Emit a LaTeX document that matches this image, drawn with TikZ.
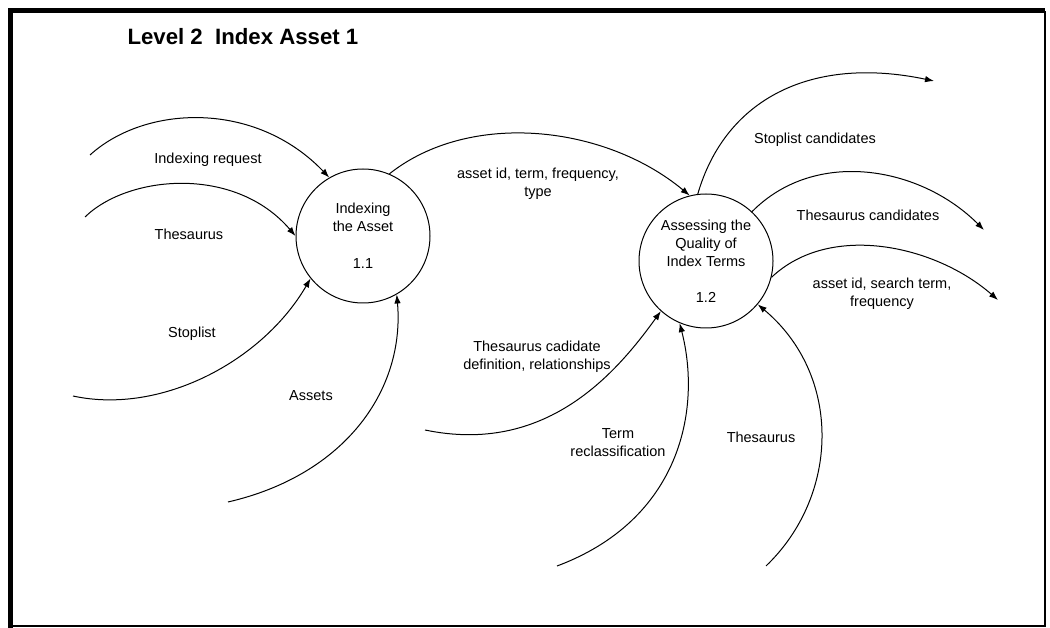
\documentclass[tikz,border=0pt]{standalone}
\usepackage{fontspec}
\setmainfont{Liberation Sans}
\usetikzlibrary{arrows.meta}

\begin{document}
\begin{tikzpicture}[x=1pt, y=-1pt, >={Latex[length=9pt,width=6.5pt]},
  process/.style={circle, draw, line width=1pt, minimum size=134pt, inner sep=0pt,
    align=center, font=\fontsize{14.5}{18}\selectfont},
  flowlabel/.style={align=center, inner sep=0pt, font=\fontsize{14.5}{18}\selectfont},
  flow/.style={->, line width=1pt}]

\useasboundingbox (0,0) rectangle (1050,628);

%Frame
\draw[line width=1.5pt] (10,626) -- (1045,626) -- (1045,11);
\draw[line width=5pt] (10,628) -- (10,11) -- (1045,11);

%Title
\node[anchor=west, font=\fontsize{22.2}{26}\selectfont\bfseries] (title) at (124,37) {Level 2\ \ Index Asset 1};

%Indexing the asset
\node[process] (idx) at (363,236) {
    Indexing\\the Asset\\[19pt]1.1
    };

%Assessing the quality
\node[process] (qual) at (706,261) {
    Assessing the\\Quality of\\Index Terms\\[18pt]1.2
    };

%free ends
\coordinate (reqsrc) at (90,155);
\coordinate (thessrc) at (85,217);
\coordinate (stopsrc) at (73,396);
\coordinate (assetsrc) at (228,502);
\coordinate (candsrc) at (425,430);
\coordinate (reclsrc) at (557,566);
\coordinate (thestwosrc) at (766,566);
\coordinate (stopdst) at (934,81);
\coordinate (thesdst) at (984,230);
\coordinate (searchdst) at (998,300);

%Labels
\node[flowlabel] (reqlbl) at (208,160) {Indexing request};
\node[flowlabel] (theslbl) at (189,234) {Thesaurus};
\node[flowlabel] (stoplbl) at (192,334) {Stoplist};
\node[flowlabel] (assetlbl) at (311,396) {Assets};
\node[flowlabel] (termlbl) at (538,184) {asset id, term, frequency,\\type};
\node[flowlabel] (stopclbl) at (815,140) {Stoplist candidates};
\node[flowlabel] (thesclbl) at (868,215) {Thesaurus candidates};
\node[flowlabel] (searchlbl) at (882,294) {asset id, search term,\\frequency};
\node[flowlabel] (candlbl) at (537,357) {Thesaurus cadidate\\definition, relationships};
\node[flowlabel] (recllbl) at (618,443) {Term\\reclassification};
\node[flowlabel] (thestwolbl) at (761,437) {Thesaurus};

%Paths
%into indexing
\draw[flow] (reqsrc) .. controls (145,105) and (255,100) .. (idx.120);
\draw[flow] (thessrc) .. controls (128,175) and (235,165) .. (idx.180);
\draw[flow] (stopsrc) .. controls (160,415) and (262,362) .. (idx.219);
\draw[flow] (assetsrc) .. controls (345,475) and (405,390) .. (idx.300);

%indexing to assessing
\draw[flow] (idx.67) .. controls (470,110) and (605,125) .. (qual.104);

%out of assessing
\draw[flow] (qual.97) .. controls (725,100) and (810,55) .. (stopdst);
\draw[flow] (qual.47) .. controls (815,148) and (920,166) .. (thesdst);
\draw[flow] (qual.346) .. controls (830,222) and (935,245) .. (searchdst);

%into assessing
\draw[flow] (candsrc) .. controls (545,455) and (615,375) .. (qual.228);
\draw[flow] (reclsrc) .. controls (680,520) and (702,410) .. (qual.247);
\draw[flow] (thestwosrc) .. controls (840,495) and (842,375) .. (qual.320);

\end{tikzpicture}
\end{document}
